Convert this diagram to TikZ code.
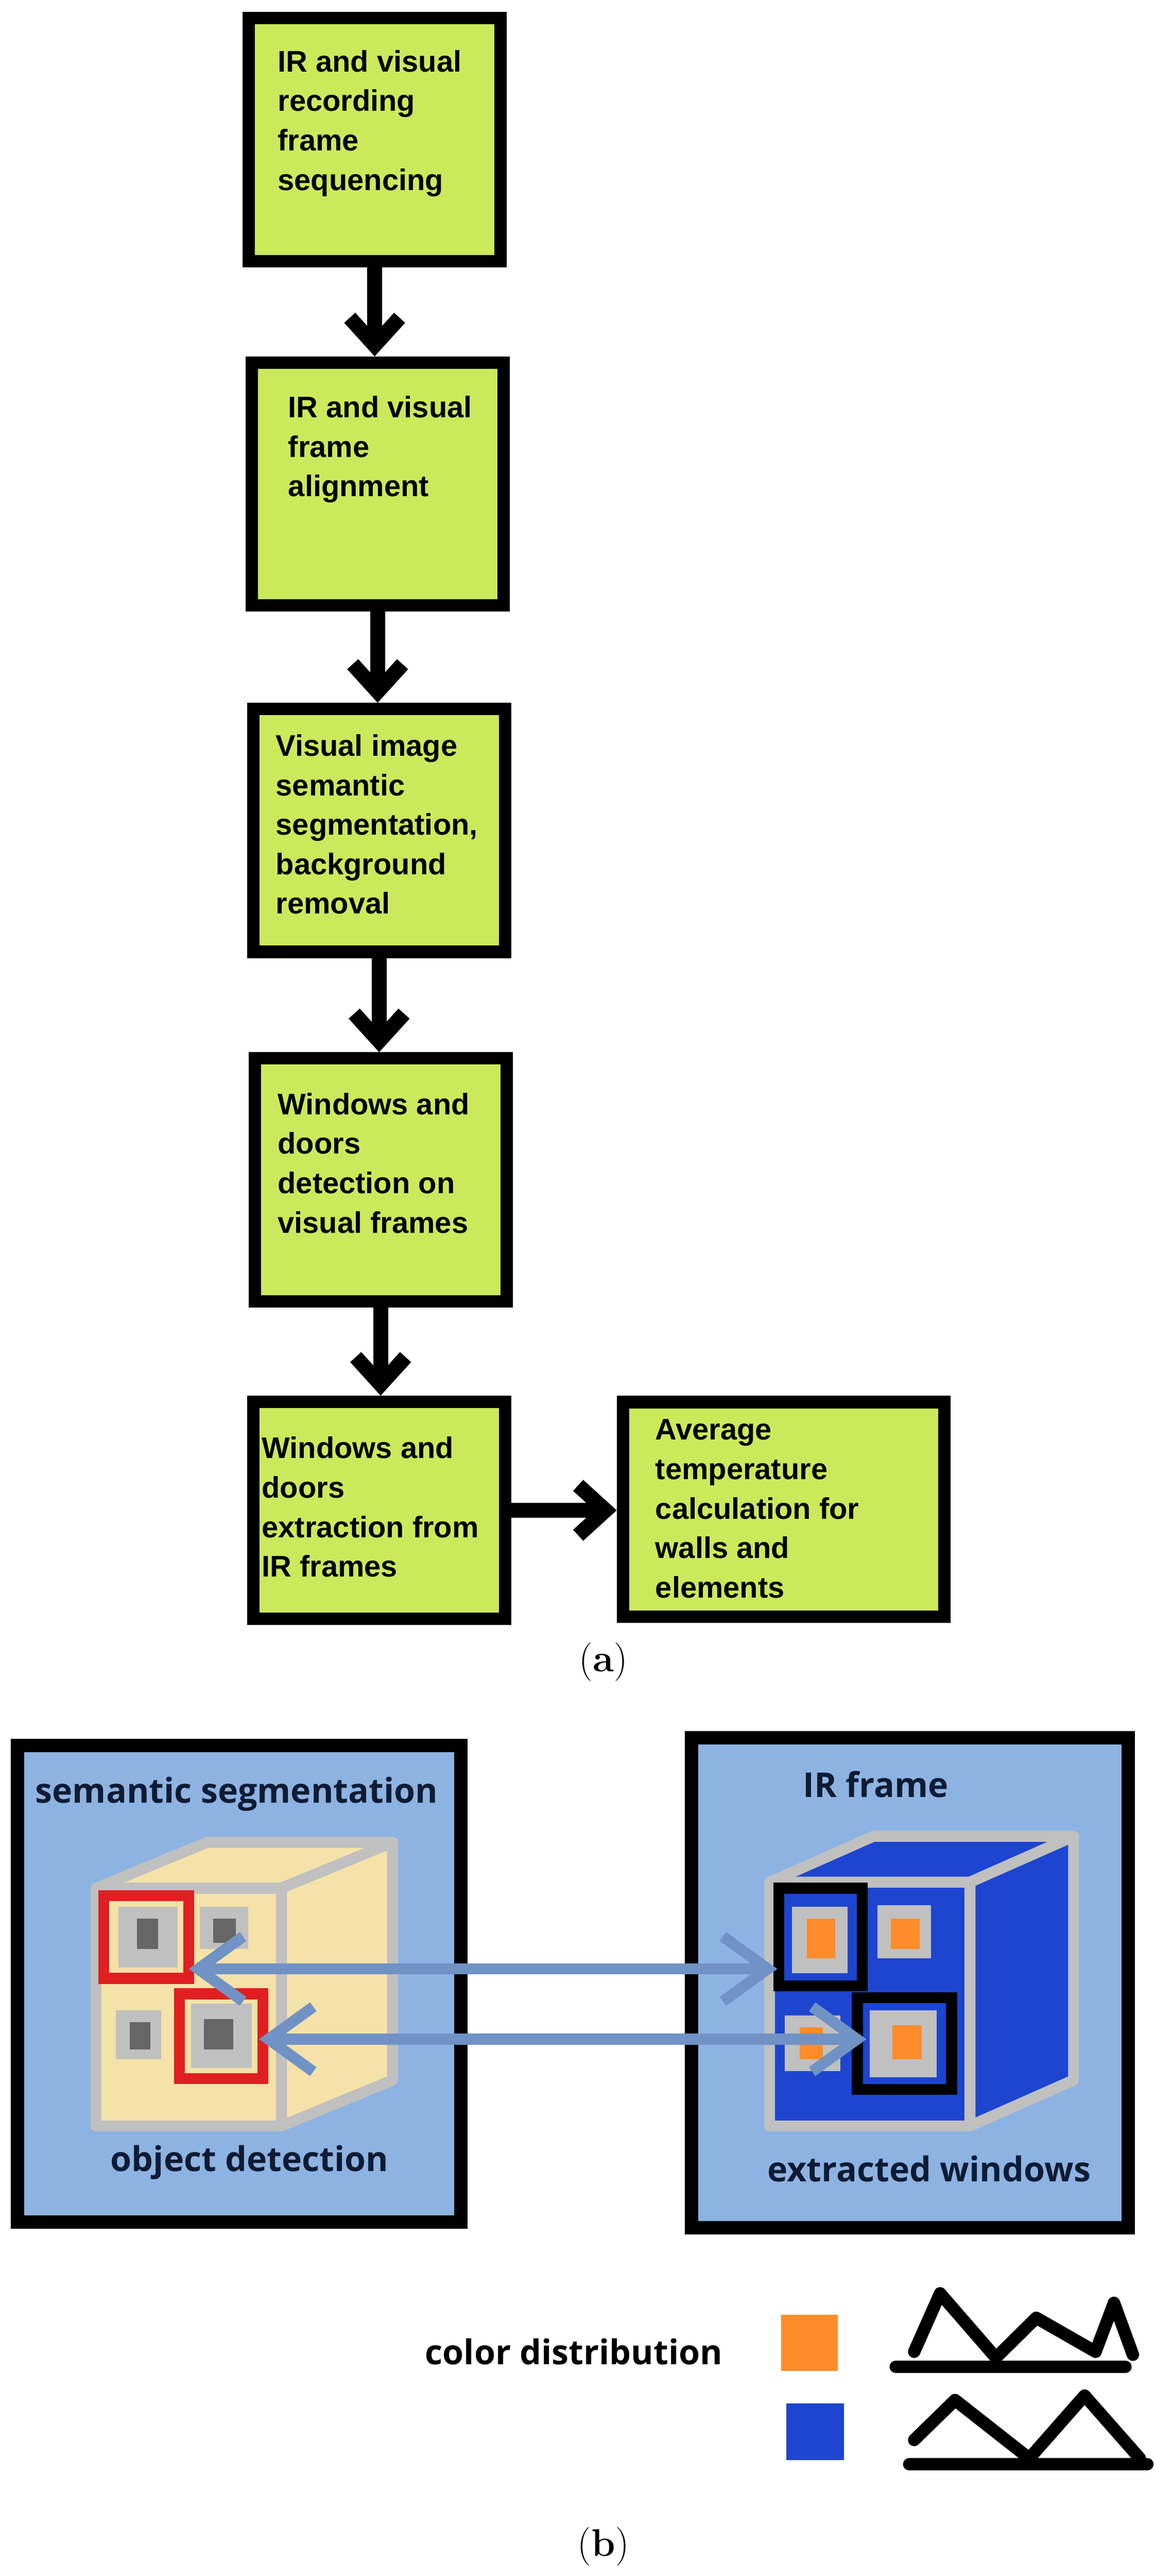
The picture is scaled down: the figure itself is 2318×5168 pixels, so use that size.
\documentclass[tikz,border=0pt]{standalone}
\usepackage{fontspec}
\newfontfamily\flowfont{Liberation Sans}
\newfontfamily\panelfont{Open Sans}
\usetikzlibrary{arrows.meta,calc}
\definecolor{boxgreen}{RGB}{204,233,92}
\definecolor{panelblue}{RGB}{141,179,226}
\definecolor{cubebeige}{RGB}{245,226,168}
\definecolor{cubeblue}{RGB}{29,69,208}
\definecolor{edgegrey}{RGB}{192,192,192}
\definecolor{innergrey}{RGB}{102,102,102}
\definecolor{winred}{RGB}{224,32,32}
\definecolor{winorange}{RGB}{255,140,42}
\definecolor{linkblue}{RGB}{112,146,196}
\definecolor{inkblue}{RGB}{15,27,51}
\tikzset{
  stepbox/.style={draw=black,line width=0.25cm,fill=boxgreen,minimum width=5.05cm,minimum height=4.87cm,inner sep=0pt},
  steptext/.style={anchor=north west,inner sep=0pt,align=left,font=\flowfont\bfseries\fontsize{17}{22.5}\selectfont},
  flow/.style={line width=0.3cm,-{Straight Barb[length=0.55cm,width=1.0cm]}},
  panel/.style={draw=black,line width=0.27cm,fill=panelblue,inner sep=0pt},
  paneltext/.style={inner sep=0pt,text=inkblue,font=\panelfont\bfseries\fontsize{19.5}{23}\selectfont},
  cubeedge/.style={draw=edgegrey,line width=0.22cm,line join=round},
  frame/.style={line width=0.22cm},
  link/.style={draw=linkblue,line width=0.22cm,{Straight Barb[length=0.9cm,width=1.3cm]}-{Straight Barb[length=0.9cm,width=1.3cm]}},
  curve/.style={line width=0.25cm,line cap=round,line join=round},
  caption/.style={font=\fontsize{22}{26}\selectfont}
}
\begin{document}
\begin{tikzpicture}[x=0.01cm,y=-0.01cm]
\useasboundingbox (0,0) rectangle (2318,5168);
% (a) flow chart
\node[stepbox] (s1) at (752,280) {};
\node[stepbox] (s2) at (758,971) {};
\node[stepbox] (s3) at (761,1666) {};
\node[stepbox] (s4) at (764,2367) {};
\node[stepbox,minimum height=4.35cm] (s5) at (761,3030) {};
\node[stepbox,minimum width=6.45cm,minimum height=4.3cm] (s6) at (1573,3028) {};
\node[steptext] (t1) at (557,100) {IR and visual\\recording\\frame\\sequencing};
\node[steptext] (t2) at (578,794) {IR and visual\\frame\\alignment};
\node[steptext] (t3) at (553,1473) {Visual image\\semantic\\segmentation,\\background\\removal};
\node[steptext] (t4) at (557,2192) {Windows and\\doors\\detection on\\visual frames};
\node[steptext] (t5) at (525,2882) {Windows and\\doors\\extraction from\\IR frames};
\node[steptext] (t6) at (1315,2847) {Average\\temperature\\calculation for\\walls and\\elements};
\draw[flow] (s1.south) -- (s1.south |- s2.north);
\draw[flow] (s2.south) -- (s2.south |- s3.north);
\draw[flow] (s3.south) -- (s3.south |- s4.north);
\draw[flow] (s4.south) -- (s4.south |- s5.north);
\draw[flow] (s5.east) -- (s5.east -| s6.west);
\node[caption] (capa) at (1211,3334) {(\textbf{a})};
% (b) panels
\node[panel,minimum width=8.9cm,minimum height=9.56cm] (pl) at (480,3980) {};
\node[panel,minimum width=8.76cm,minimum height=9.82cm] (pr) at (1826,3978) {};
\node[paneltext] (sem) at (475,3599) {semantic segmentation};
\node[paneltext] (obj) at (501,4338) {object detection};
\node[paneltext] (irf) at (1758,3580) {IR frame};
\node[paneltext] (ext) at (1865,4351) {extracted windows};
% beige cube
\filldraw[cubeedge,fill=cubebeige] (193,3788) -- (416,3696) -- (788,3696) -- (565,3788) -- cycle;
\filldraw[cubeedge,fill=cubebeige] (565,3788) -- (788,3696) -- (788,4173) -- (565,4265) -- cycle;
\filldraw[cubeedge,fill=cubebeige] (193,3788) rectangle (565,4265);
\fill[edgegrey] (238,3825) rectangle (357,3947);
\fill[innergrey] (275,3849) rectangle (317,3910);
\fill[edgegrey] (401,3825) rectangle (498,3910);
\fill[innergrey] (428,3849) rectangle (473,3898);
\fill[edgegrey] (233,4033) rectangle (324,4131);
\fill[innergrey] (260,4057) rectangle (302,4112);
\fill[edgegrey] (383,4020) rectangle (505,4149);
\fill[innergrey] (409,4051) rectangle (468,4112);
\draw[frame,winred] (208,3803) rectangle (379,3969);
\draw[frame,winred] (360,4000) rectangle (528,4170);
% blue cube
\filldraw[cubeedge,fill=cubeblue] (1545,3776) -- (1753,3684) -- (2155,3684) -- (1947,3776) -- cycle;
\filldraw[cubeedge,fill=cubeblue] (1947,3776) -- (2155,3684) -- (2155,4173) -- (1947,4265) -- cycle;
\filldraw[cubeedge,fill=cubeblue] (1545,3776) rectangle (1947,4265);
\fill[edgegrey] (1590,3825) rectangle (1701,3959);
\fill[winorange] (1620,3849) rectangle (1676,3929);
\fill[edgegrey] (1761,3822) rectangle (1869,3929);
\fill[winorange] (1788,3849) rectangle (1846,3910);
\fill[edgegrey] (1575,4043) rectangle (1687,4155);
\fill[winorange] (1605,4067) rectangle (1652,4131);
\fill[edgegrey] (1746,4033) rectangle (1880,4167);
\fill[winorange] (1791,4063) rectangle (1850,4131);
\draw[frame,black] (1563,3788) rectangle (1731,3984);
\draw[frame,black] (1721,4008) rectangle (1910,4192);
% links between detections
\coordinate (l1) at (379,3950);
\coordinate (r1) at (1560,3950);
\coordinate (l2) at (520,4091);
\coordinate (r2) at (1739,4091);
\draw[link] (l1) -- (r1);
\draw[link] (l2) -- (r2);
% legend
\node[paneltext,text=black] (dist) at (1152,4718) {color distribution};
\fill[winorange] (1568,4644) rectangle (1682,4757);
\fill[cubeblue] (1578,4822) rectangle (1694,4935);
\draw[curve] (1798,4748) -- (2259,4748);
\draw[curve] (1835,4718) -- (1887,4601) -- (1999,4730) -- (2080,4650) -- (2199,4718) -- (2236,4620) -- (2274,4724);
\draw[curve] (1825,4944) -- (2303,4944);
\draw[curve] (1835,4895) -- (1917,4815) -- (2066,4932) -- (2177,4806) -- (2288,4932);
\node[caption] (capb) at (1211,5109) {(\textbf{b})};
\end{tikzpicture}
\end{document}
